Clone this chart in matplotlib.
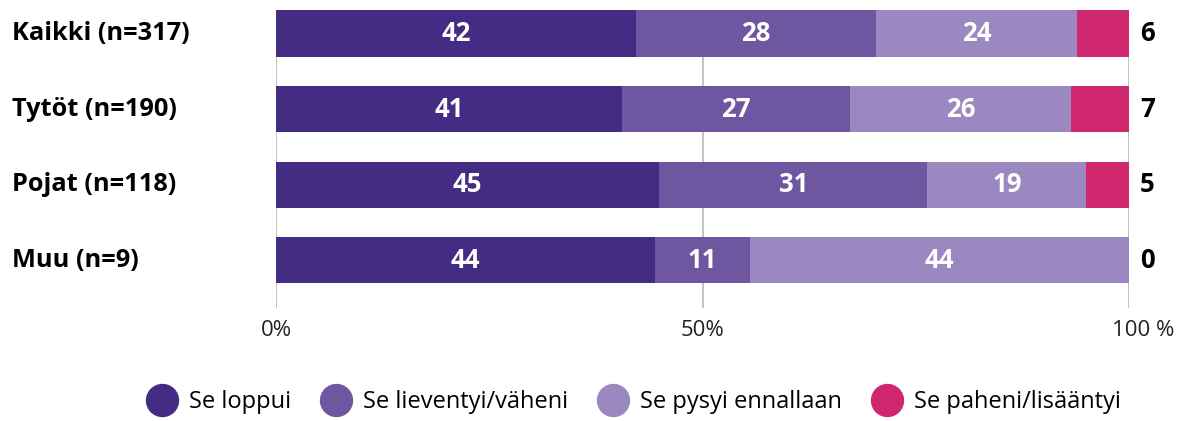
import matplotlib.pyplot as plt
import numpy as np
from matplotlib.transforms import blended_transform_factory, ScaledTranslation
from matplotlib.lines import Line2D

plt.rcParams['font.family'] = ['Open Sans', 'DejaVu Sans']

# --------------------------  Data  -------------------------------------------

groups = ["Kaikki (n=317)", "Tytöt (n=190)", "Pojat (n=118)", "Muu (n=9)"]
series = ["Se loppui", "Se lieventyi/väheni", "Se pysyi ennallaan", "Se paheni/lisääntyi"]
# shares (%); labels show them rounded
loppui = [42.2, 40.6, 44.9, 44.4]
lieventyi = [28.1, 26.7, 31.4, 11.1]
pysyi = [23.6, 25.9, 18.6, 44.4]
paheni = [6.1, 6.8, 5.0, 0.0]
tick_values = [0, 50, 100]
tick_labels = ["0%", "50%", "100 %"]

colors = ["#442c84", "#6e57a0", "#9b88c0", "#d0286e"]

# --------------------------  Plot  -------------------------------------------

values = np.array([loppui, lieventyi, pysyi, paheni], dtype=float)
shares = values / values.sum(axis=0) * 100

fig = plt.figure(figsize=(11.85, 4.21), dpi=100)
ax = fig.add_axes([276 / 1185, 1 - 308 / 421, 853 / 1185, 298 / 421])

y = np.arange(len(groups))
left = np.zeros(len(groups))
for i, name in enumerate(series):
    ax.barh(y, shares[i], left=left, height=0.61, color=colors[i], zorder=2)
    if i < 3:
        for j in range(len(groups)):
            ax.text(left[j] + shares[i][j] / 2, y[j], f"{values[i][j]:.0f}",
                    ha="center", va="center", color="white",
                    fontsize=18.5, fontweight="bold", zorder=3)
    left += shares[i]

# last series shown outside the bar
for j in range(len(groups)):
    ax.text(101.3, y[j], f"{values[3][j]:.0f}", ha="left", va="center",
            fontsize=18.5, fontweight="bold", color="black", clip_on=False)

# group labels at far left
trans = blended_transform_factory(fig.transFigure, ax.transData)
for j, g in enumerate(groups):
    ax.text(12 / 1185, y[j], g, transform=trans, ha="left", va="center",
            fontsize=18.3, fontweight="bold", color="black")

ax.set_xlim(0, 100)
ax.set_ylim(3.63, -0.31)
ax.set_yticks([])
ax.set_xticks(tick_values)
ax.set_xticklabels(tick_labels, fontsize=16, color="#222222")
ax.tick_params(axis="x", length=0, pad=9)
last = ax.get_xticklabels()[-1]
last.set_transform(last.get_transform() + ScaledTranslation(0.14, 0, fig.dpi_scale_trans))
for v in tick_values:
    ax.axvline(v, color="#c4c4c4", lw=1.5, zorder=1)
for s in ax.spines.values():
    s.set_visible(False)

handles = [Line2D([], [], marker="o", ls="", markersize=23, color=c) for c in colors]
fig.legend(handles, series, loc="lower center", bbox_to_anchor=(0.535, -0.035),
           ncol=4, frameon=False, fontsize=17, handletextpad=0.5,
           columnspacing=1.25, handlelength=1.3)

fig.savefig("out.png", dpi=100)
